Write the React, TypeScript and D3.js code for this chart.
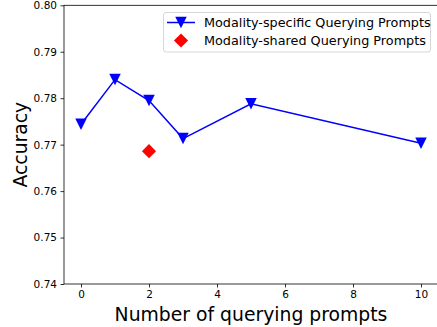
import React, { useEffect, useRef } from "react";
import * as d3 from "d3";

const promptCounts = [0, 1, 2, 3, 5, 10];
const specificAccuracy = [0.7744, 0.784, 0.7795, 0.7713, 0.7788, 0.7703];
const sharedCount = [2];
const sharedAccuracy = [0.7686];
const xTicks = [0, 2, 4, 6, 8, 10];
const yTicks = [0.74, 0.75, 0.76, 0.77, 0.78, 0.79, 0.8];
const legendLabels = ["Modality-specific Querying Prompts", "Modality-shared Querying Prompts"];

const width = 437;
const height = 327;
const margin = { top: 5.3, right: -1, bottom: 43, left: 64 };

// matplotlib-style 'v' marker: as wide as it is tall
const triDown = (s: number) => `M0,${s / 2}L${-s / 2},${-s / 2}L${s / 2},${-s / 2}Z`;

export default function App() {
  const svgRef = useRef<SVGSVGElement>(null);

  useEffect(() => {
    const svg = d3.select(svgRef.current);
    svg.selectAll("*").remove();
    const font = "DejaVu Sans, sans-serif";

    const x = d3.scaleLinear().domain([-0.5, 10.5]).range([margin.left, width - margin.right]);
    const y = d3.scaleLinear().domain([0.74, 0.8]).range([height - margin.bottom, margin.top]);

    const g = svg.append("g");

    // axes
    const xAxis = g.append("g")
      .attr("transform", "translate(0," + y(0.74) + ")")
      .call(d3.axisBottom(x).tickValues(xTicks).tickSize(3.5).tickPadding(3.5).tickFormat(d3.format("d")));
    const yAxis = g.append("g")
      .attr("transform", "translate(" + x(-0.5) + ",0)")
      .call(d3.axisLeft(y).tickValues(yTicks).tickSize(3.5).tickPadding(3.5).tickFormat(d3.format(".2f")));
    [xAxis, yAxis].forEach(a => {
      a.select(".domain").remove();
      a.selectAll("text").attr("font-family", font).attr("font-size", 10.5).attr("fill", "#000");
      a.selectAll("line").attr("stroke", "#000").attr("stroke-width", 0.8);
    });

    // spines
    g.append("rect")
      .attr("x", x(-0.5)).attr("y", y(0.8))
      .attr("width", x(10.5) - x(-0.5)).attr("height", y(0.74) - y(0.8))
      .attr("fill", "none").attr("stroke", "#000").attr("stroke-width", 0.8);

    const dia = d3.symbol().type(d3.symbolSquare).size(100);

    const pts = promptCounts.map((c, i) => [c, specificAccuracy[i]] as [number, number]);
    g.append("path")
      .datum(pts)
      .attr("d", d3.line().x(d => x(d[0])).y(d => y(d[1])))
      .attr("fill", "none").attr("stroke", "#0000ff").attr("stroke-width", 1.5);

    g.selectAll(".tri")
      .data(pts)
      .join("path")
      .attr("class", "tri")
      .attr("d", triDown(11.5))
      .attr("transform", d => "translate(" + x(d[0]) + "," + y(d[1]) + ")")
      .attr("fill", "#0000ff");

    g.selectAll(".dia")
      .data(sharedCount.map((c, i) => [c, sharedAccuracy[i]]))
      .join("path")
      .attr("class", "dia")
      .attr("d", dia)
      .attr("transform", d => "translate(" + x(d[0]) + "," + y(d[1]) + ") rotate(45)")
      .attr("fill", "#ff0000");

    // labels
    svg.append("text")
      .attr("x", (x(-0.5) + x(10.5)) / 2).attr("y", 321)
      .attr("text-anchor", "middle")
      .attr("font-family", font).attr("font-size", 18.8)
      .text("Number of querying prompts");
    svg.append("text")
      .attr("transform", "translate(27," + y(0.77) + ") rotate(-90)")
      .attr("text-anchor", "middle")
      .attr("font-family", font).attr("font-size", 18.8)
      .text("Accuracy");

    // legend
    const lg = svg.append("g");
    lg.append("rect")
      .attr("x", 163.5).attr("y", 12.5).attr("width", 267).attr("height", 39.5).attr("rx", 2.5)
      .attr("fill", "#fff").attr("fill-opacity", 0.8).attr("stroke", "#ccc").attr("stroke-width", 0.8);
    lg.append("line")
      .attr("x1", 167).attr("x2", 195).attr("y1", 22.5).attr("y2", 22.5)
      .attr("stroke", "#0000ff").attr("stroke-width", 1.5);
    lg.append("path").attr("d", triDown(11.5))
      .attr("transform", "translate(181,22.5)").attr("fill", "#0000ff");
    lg.append("path").attr("d", dia)
      .attr("transform", "translate(181,40.5) rotate(45)").attr("fill", "#ff0000");
    lg.selectAll(".lt")
      .data(legendLabels)
      .join("text")
      .attr("class", "lt")
      .attr("x", 204).attr("y", (d, i) => 27 + i * 18)
      .attr("font-family", font).attr("font-size", 12.8)
      .text(d => d);
  }, []);

  return (
    <svg ref={svgRef} width={width} height={height} style={{ position: "absolute", left: 0, top: 0, background: "#fff" }} />
  );
}
